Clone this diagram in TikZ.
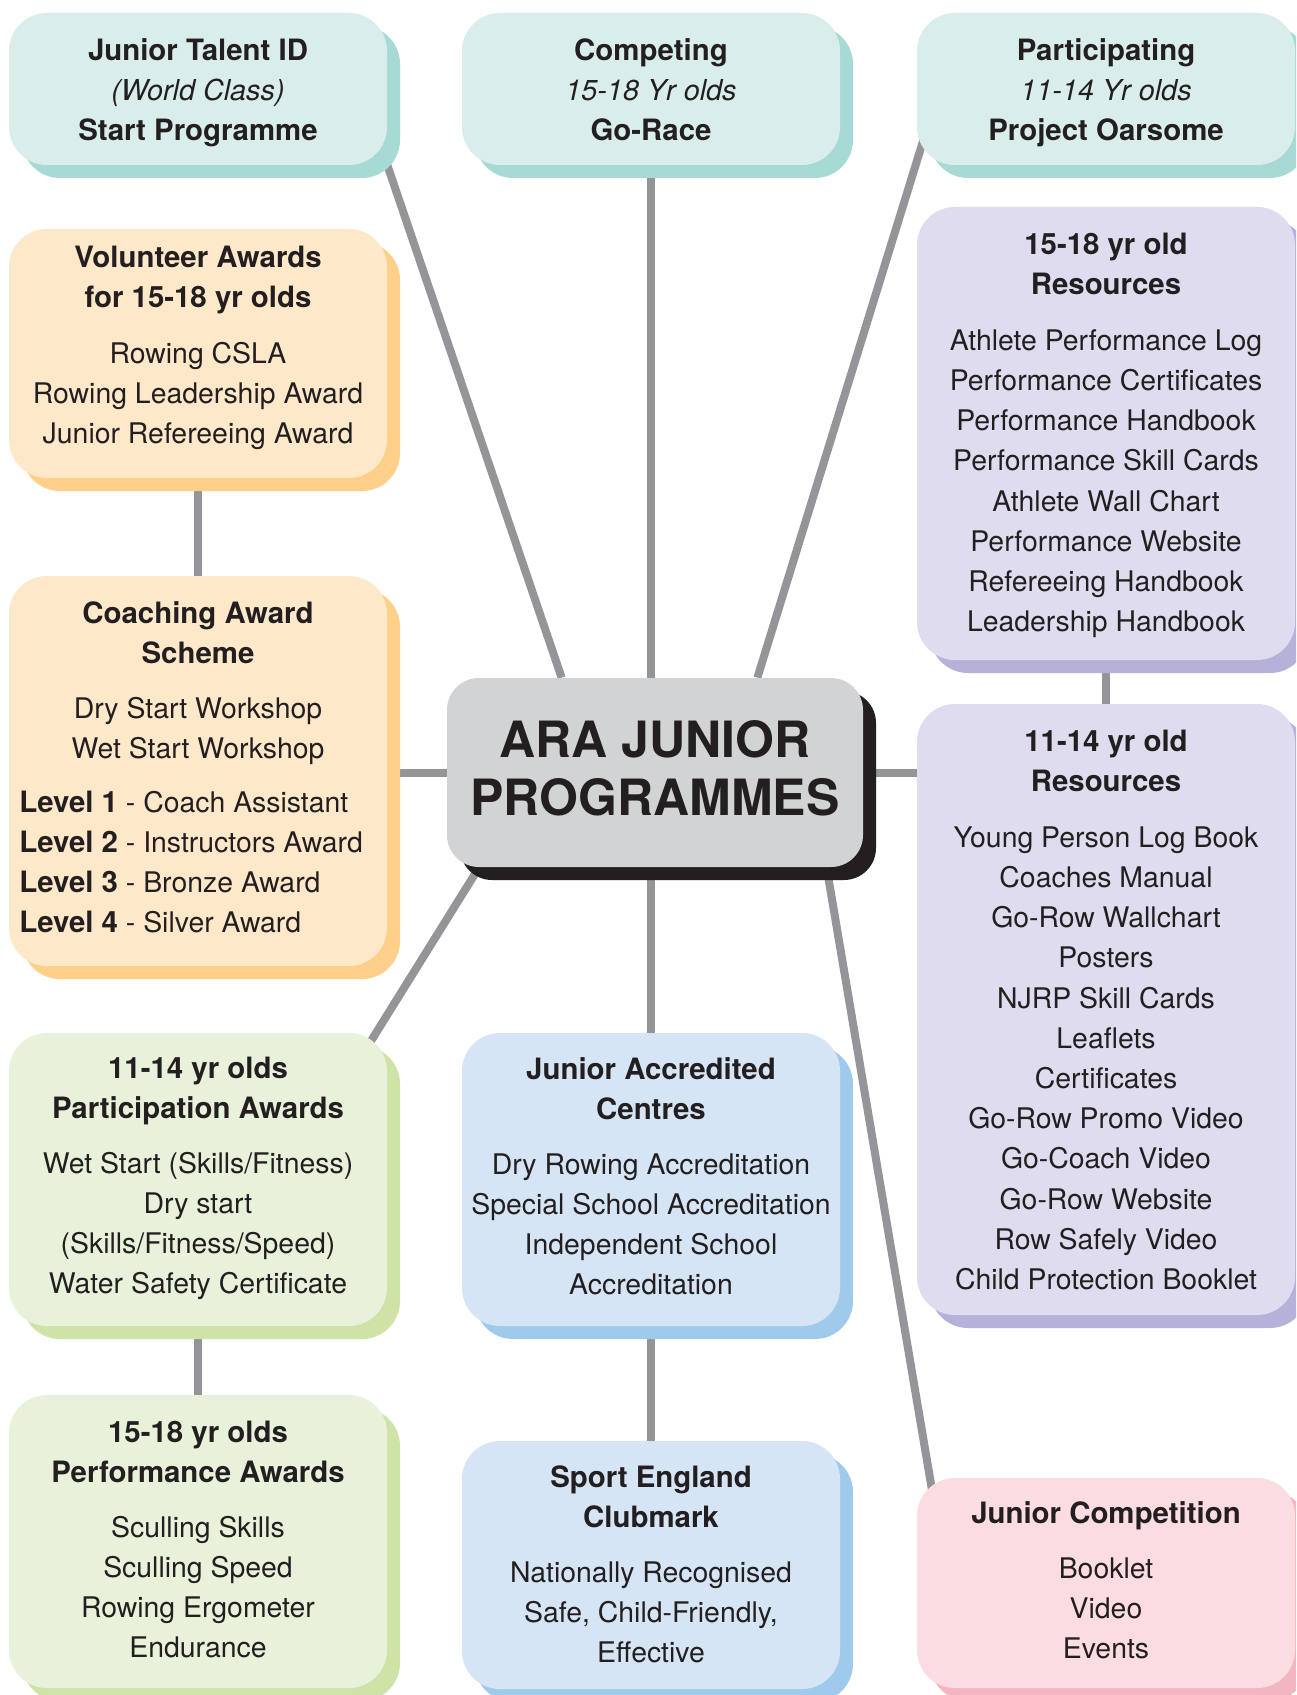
\documentclass[tikz,border=0pt]{standalone}
\usepackage{fontspec}
\setmainfont{TeX Gyre Heros}
\usetikzlibrary{shadows,calc,backgrounds}
\pgfdeclarelayer{bottom}
\pgfsetlayers{bottom,background,main}
\definecolor{ink}{HTML}{231F20}
\definecolor{tealF}{HTML}{D9EEEB}
\definecolor{tealS}{HTML}{A7DAD4}
\definecolor{orngF}{HTML}{FEE8CA}
\definecolor{orngS}{HTML}{FDCF88}
\definecolor{purpF}{HTML}{DEDCEE}
\definecolor{purpS}{HTML}{B6B1D9}
\definecolor{grenF}{HTML}{E8F1DA}
\definecolor{grenS}{HTML}{CFE3A6}
\definecolor{blueF}{HTML}{D6E5F5}
\definecolor{blueS}{HTML}{9FCAEB}
\definecolor{pinkF}{HTML}{FBDDE1}
\definecolor{pinkS}{HTML}{F4B5C2}
\definecolor{midF}{HTML}{D1D3D4}
\definecolor{lineC}{HTML}{939598}
\newcommand{\boxhead}[1]{{\fontsize{14.7}{20}\selectfont\bfseries #1}}
\newcommand{\boxital}[1]{{\fontsize{14.4}{20}\selectfont\itshape #1}}
\tikzset{
  panel/.style 2 args={draw=none, fill=#1, rounded corners=19pt, inner sep=0pt,
     minimum width=189pt,
     general shadow={fill=#2, shadow xshift=6.5pt, shadow yshift=-6.5pt}},
  txt/.style={anchor=north, inner sep=0pt, align=center, text=ink,
     font={\fontsize{14.2}{20}\selectfont}},
  txtres/.style={txt, font={\fontsize{14.2}{20.12}\selectfont}},
  levels/.style={anchor=north west, inner sep=0pt, align=left, text=ink,
     font={\fontsize{14.2}{20}\selectfont}},
  conn/.style={draw=lineC, line width=4pt},
}
\begin{document}
\begin{tikzpicture}[x=0.5pt, y=-0.5pt]
\useasboundingbox (0,0) rectangle (1296,1695);
\begin{pgfonlayer}{bottom}
\fill[white] (0,0) rectangle (1296,1695);
\end{pgfonlayer}
\clip (0,0) rectangle (1296,1695);

% boxes
\node[panel={tealF}{tealS}, minimum height=76pt] (talent) at (198,89) {};
\node[panel={tealF}{tealS}, minimum height=76pt] (compet) at (651,89) {};
\node[panel={tealF}{tealS}, minimum height=76pt] (partic) at (1106,89) {};
\node[panel={orngF}{orngS}, minimum height=124.5pt] (volun) at (198,353.5) {};
\node[panel={orngF}{orngS}, minimum height=195pt] (coach) at (198,771) {};
\node[panel={grenF}{grenS}, minimum height=146.5pt] (part11) at (198,1179.5) {};
\node[panel={grenF}{grenS}, minimum height=146.5pt] (perf15) at (198,1541.5) {};
\node[panel={blueF}{blueS}, minimum height=146.5pt] (accred) at (651,1179.5) {};
\node[panel={blueF}{blueS}, minimum height=124pt] (sport) at (651,1565) {};
\node[panel={purpF}{purpS}, minimum height=226.5pt] (res15) at (1106,433.5) {};
\node[panel={purpF}{purpS}, minimum height=305.5pt] (res11) at (1106,1009.5) {};
\node[panel={pinkF}{pinkS}, minimum height=105pt] (jcomp) at (1106,1583) {};
\node[panel={midF}{ink}, rounded corners=16pt, minimum width=208pt, minimum height=94.5pt] (hub) at (655,772.5) {};

% connectors
\begin{pgfonlayer}{background}
\draw[conn] (talent.south east) -- ($(hub.north west)+(115,0)$);
\draw[conn] (compet.south) -- (compet.south |- hub.north);
\draw[conn] ($(partic.south west)+(19,-65)$) -- ($(hub.north east)+(-106,0)$);
\draw[conn] (volun.south) -- (coach.north);
\draw[conn] (coach.east |- hub.west) -- (hub.west);
\draw[conn] (hub.east) -- (hub.east -| res11.west);
\draw[conn] (res15.south) -- (res11.north);
\draw[conn] ($(hub.south west)+(43,-17)$) -- ($(part11.north east)+(-28,27)$);
\draw[conn] (accred.north |- hub.south) -- (accred.north);
\draw[conn] ($(hub.south east)+(-38,-7)$) -- ($(jcomp.north west)+(17,22)$);
\draw[conn] (part11.south) -- (perf15.north);
\draw[conn] (accred.south) -- (sport.north);
\end{pgfonlayer}

% texts
\node[txt] (talentT) at (198,32) {\strut\boxhead{Junior Talent ID}\\ \boxital{(World Class)}\\ \boxhead{Start Programme}};
\node[txt] (competT) at (651,32) {\strut\boxhead{Competing}\\ \boxital{15-18 Yr olds}\\ \boxhead{Go-Race}};
\node[txt] (particT) at (1106,32) {\strut\boxhead{Participating}\\ \boxital{11-14 Yr olds}\\ \boxhead{Project Oarsome}};

\node[txt] (volunT) at (198,239) {\strut\boxhead{Volunteer Awards}\\ \boxhead{for 15-18 yr olds}\\[8pt]
  Rowing CSLA\\ Rowing Leadership Award\\ Junior Refereeing Award};

\node[txt] (coachT) at (198,595) {\strut\boxhead{Coaching Award}\\ \boxhead{Scheme}\\[7.5pt]
  Dry Start Workshop\\ Wet Start Workshop};
\node[levels] (coachL) at (19,784) {\strut\boxhead{Level 1} - Coach Assistant\\
  \boxhead{Level 2} - Instructors Award\\ \boxhead{Level 3} - Bronze Award\\ \boxhead{Level 4} - Silver Award};

\node[txtres] (res15T) at (1106,226) {\strut\boxhead{15-18 yr old}\\ \boxhead{Resources}\\[7.5pt]
  Athlete Performance Log\\ Performance Certificates\\ Performance Handbook\\
  Performance Skill Cards\\ Athlete Wall Chart\\ Performance Website\\
  Refereeing Handbook\\ Leadership Handbook};

\node[txtres] (res11T) at (1106,723) {\strut\boxhead{11-14 yr old}\\ \boxhead{Resources}\\[7.5pt]
  Young Person Log Book\\ Coaches Manual\\ Go-Row Wallchart\\ Posters\\
  NJRP Skill Cards\\ Leaflets\\ Certificates\\ Go-Row Promo Video\\
  Go-Coach Video\\ Go-Row Website\\ Row Safely Video\\ Child Protection Booklet};

\node[anchor=north, inner sep=0pt, align=center, text=ink,
  font={\fontsize{25}{29}\selectfont\bfseries}] (hubT) at (655,716.4)
  {\strut ARA JUNIOR\\ PROGRAMMES};

\node[txt] (part11T) at (198,1050) {\strut\boxhead{11-14 yr olds}\\ \boxhead{Participation Awards}\\[7.5pt]
  Wet Start (Skills/Fitness)\\ Dry start\\ (Skills/Fitness/Speed)\\ Water Safety Certificate};

\node[txt] (perf15T) at (198,1414) {\strut\boxhead{15-18 yr olds}\\ \boxhead{Performance Awards}\\[7.5pt]
  Sculling Skills\\ Sculling Speed\\ Rowing Ergometer\\ Endurance};

\node[txt] (accredT) at (651,1051) {\strut\boxhead{Junior Accredited}\\ \boxhead{Centres}\\[7.5pt]
  Dry Rowing Accreditation\\ Special School Accreditation\\ Independent School\\ Accreditation};

\node[txt] (sportT) at (651,1459) {\strut\boxhead{Sport England}\\ \boxhead{Clubmark}\\[7.5pt]
  Nationally Recognised\\ Safe, Child-Friendly,\\ Effective};

\node[txt] (jcompT) at (1106,1495) {\strut\boxhead{Junior Competition}\\[7.5pt]
  Booklet\\ Video\\ Events};
\end{tikzpicture}
\end{document}
